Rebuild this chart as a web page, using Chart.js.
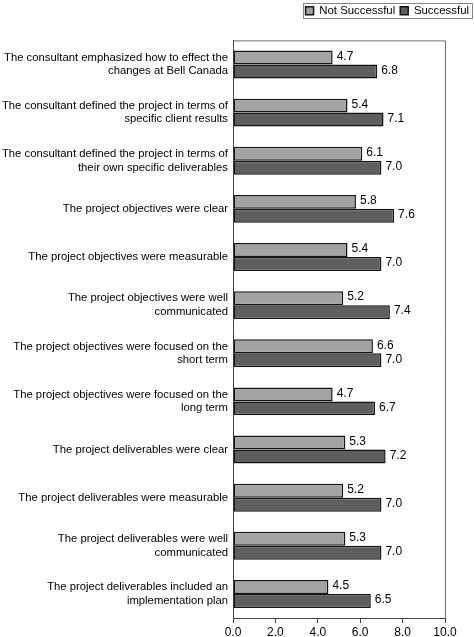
<!DOCTYPE html>
<html>
<head>
<meta charset="utf-8">
<script src="https://cdn.jsdelivr.net/npm/chart.js@4.4.0/dist/chart.umd.min.js"></script>
<style>
  html, body { margin: 0; padding: 0; background: #fff; }
  #wrap { width: 474px; height: 637px; }
</style>
</head>
<body>
<div id="wrap"><canvas id="chart"></canvas></div>
<script>
const categories = [
    ["The consultant emphasized how to effect the", "changes at Bell Canada"],
    ["The consultant defined the project in terms of", "specific client results"],
    ["The consultant defined the project in terms of", "their own specific deliverables"],
    "The project objectives were clear",
    "The project objectives were measurable",
    ["The project objectives were well", "communicated"],
    ["The project objectives were focused on the", "short term"],
    ["The project objectives were focused on the", "long term"],
    "The project deliverables were clear",
    "The project deliverables were measurable",
    ["The project deliverables were well", "communicated"],
    ["The project deliverables included an", "implementation plan"]
];
const notSuccessful = [4.7, 5.4, 6.1, 5.8, 5.4, 5.2, 6.6, 4.7, 5.3, 5.2, 5.3, 4.5];
const successful = [6.8, 7.1, 7.0, 7.6, 7.0, 7.4, 7.0, 6.7, 7.2, 7.0, 7.0, 6.5];
const xTicks = [0, 2, 4, 6, 8, 10];

const FONT = '"Liberation Sans", Arial, sans-serif';

// value labels at the end of each bar + frame around plot and legend
const extras = {
    id: 'extras',
    afterDatasetsDraw(chart) {
        const ctx = chart.ctx;
        ctx.save();
        ctx.font = '12px ' + FONT;
        ctx.fillStyle = '#000';
        ctx.textAlign = 'left';
        ctx.textBaseline = 'middle';
        chart.data.datasets.forEach((ds, i) => {
            chart.getDatasetMeta(i).data.forEach((bar, j) => {
                ctx.fillText(ds.data[j].toFixed(1), bar.x + 4, bar.y - 1);
            });
        });
        ctx.restore();
    },
    afterDraw(chart) {
        const ctx = chart.ctx;
        const a = chart.chartArea;
        ctx.save();
        ctx.strokeStyle = '#6e6e6e';
        ctx.lineWidth = 1;
        ctx.beginPath();
        ctx.moveTo(a.left, a.top + 0.5);
        ctx.lineTo(a.right + 0.5, a.top + 0.5);
        ctx.lineTo(a.right + 0.5, a.bottom);
        ctx.stroke();
        // legend border
        const boxes = chart.legend.legendHitBoxes;
        if (boxes && boxes.length) {
            const l = Math.min(...boxes.map(b => b.left)) - 3;
            const r = Math.max(...boxes.map(b => b.left + b.width)) + 3;
            const t = Math.min(...boxes.map(b => b.top)) - 2;
            const btm = Math.max(...boxes.map(b => b.top + b.height)) + 2;
            ctx.strokeStyle = '#888';
            ctx.strokeRect(Math.round(l) + 0.5, Math.round(t) + 0.5, Math.round(r - l), Math.round(btm - t));
        }
        ctx.restore();
    }
};

new Chart(document.getElementById('chart'), {
    type: 'bar',
    data: {
        labels: categories,
        datasets: [{
            label: 'Not Successful',
            data: notSuccessful,
            backgroundColor: '#a3a3a3',
            borderColor: '#151515',
            borderWidth: 1.5,
            borderSkipped: false,
            categoryPercentage: 0.58,
            barPercentage: 1.0
        }, {
            label: 'Successful',
            data: successful,
            backgroundColor: '#5e5e5e',
            borderColor: '#151515',
            borderWidth: 1.5,
            borderSkipped: false,
            categoryPercentage: 0.58,
            barPercentage: 1.0
        }]
    },
    options: {
        indexAxis: 'y',
        responsive: true,
        maintainAspectRatio: false,
        animation: false,
        layout: { padding: { left: 0, right: 0, top: 0, bottom: 0 } },
        plugins: {
            tooltip: { enabled: false },
            legend: {
                position: 'top',
                align: 'end',
                labels: {
                    boxWidth: 8,
                    boxHeight: 8,
                    padding: 5,
                    color: '#000',
                    font: { family: FONT, size: 11.4 }
                }
            }
        },
        scales: {
            x: {
                min: 0,
                max: 10,
                afterBuildTicks(scale) {
                    scale.ticks = xTicks.map(v => ({ value: v }));
                },
                afterFit(scale) { scale.height = 19; },
                grid: { drawOnChartArea: false, tickLength: 5, color: '#444' },
                border: { color: '#444', width: 1 },
                ticks: {
                    padding: 2,
                    color: '#000',
                    font: { family: FONT, size: 12 },
                    callback: v => Number(v).toFixed(1)
                }
            },
            // empty spacer axes: gap under the legend and margin on the right
            xTop: {
                axis: 'x',
                position: 'top',
                afterFit(scale) { scale.height = 14; },
                grid: { display: false },
                border: { display: false },
                ticks: { display: false }
            },
            yRight: {
                axis: 'y',
                position: 'right',
                afterFit(scale) { scale.width = 29; },
                grid: { display: false },
                border: { display: false },
                ticks: { display: false }
            },
            y: {
                afterFit(scale) { scale.width = 233; },
                grid: { display: false, drawTicks: false },
                border: { color: '#444', width: 1 },
                ticks: {
                    padding: 5,
                    color: '#000',
                    font: { family: FONT, size: 11.3 }
                }
            }
        }
    },
    plugins: [extras]
});
</script>
</body>
</html>
